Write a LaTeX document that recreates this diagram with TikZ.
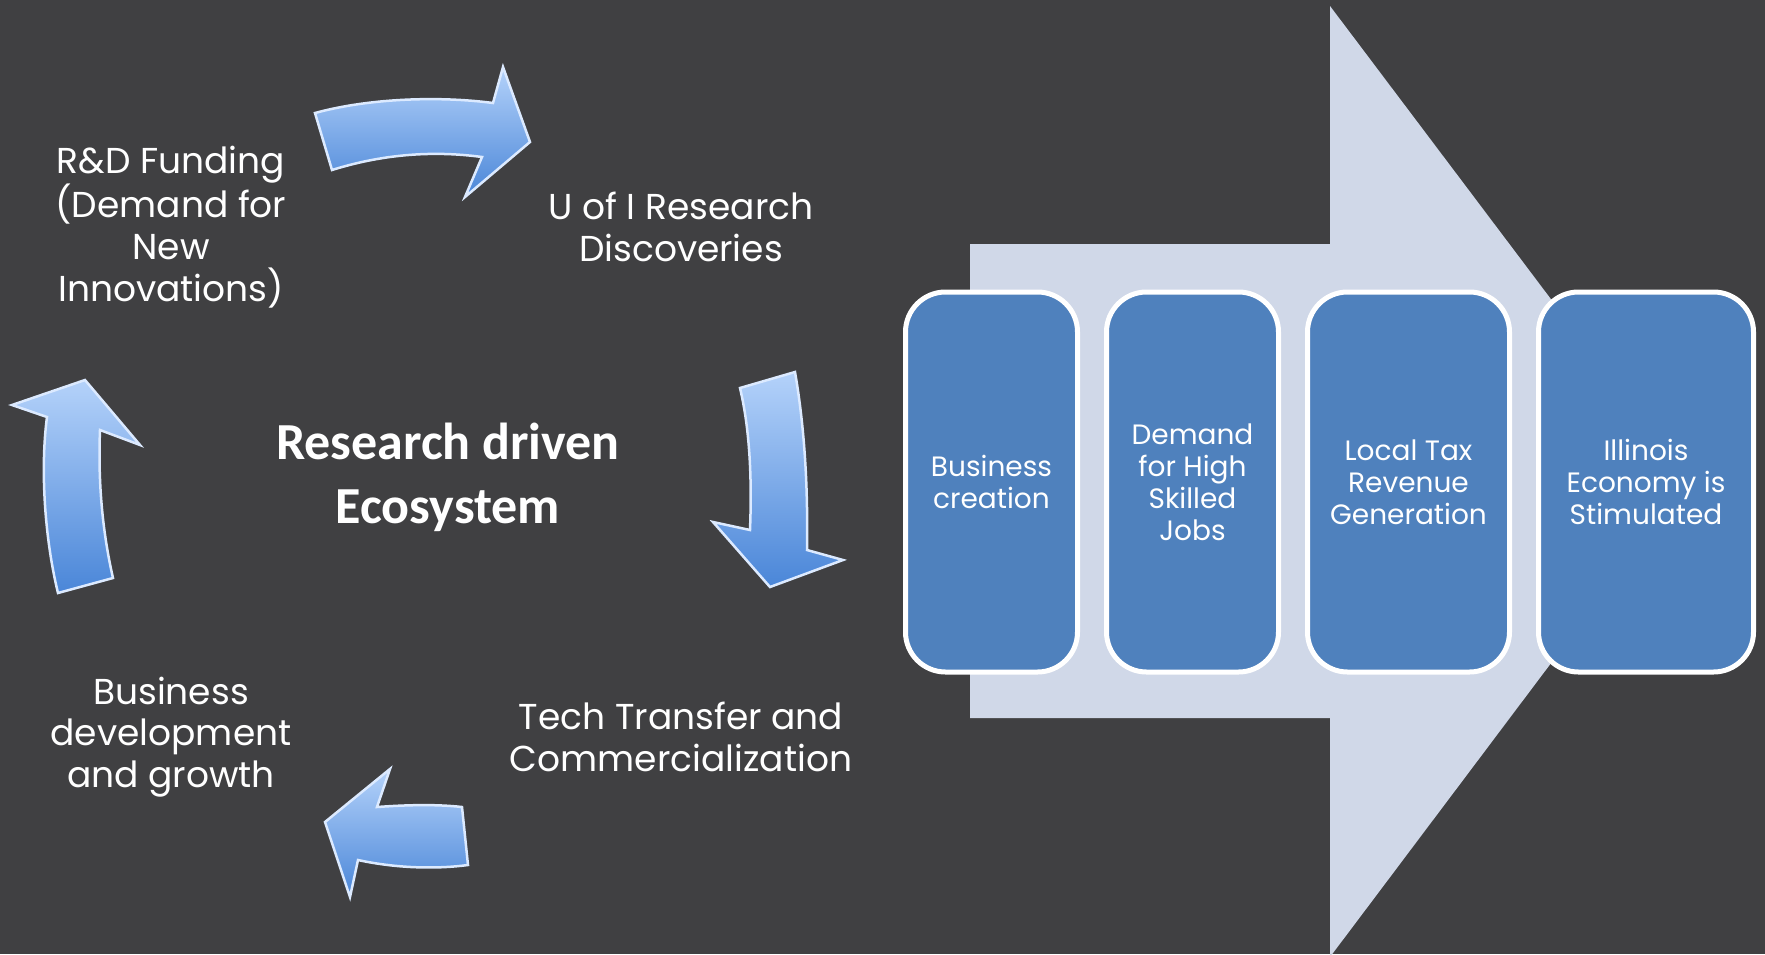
\documentclass[tikz,border=0pt]{standalone}
\usepackage{fontspec}
\setmainfont{Poppins}
\newfontfamily\titlefont{Carlito}
\definecolor{slidebg}{HTML}{404042}
\definecolor{bigarrow}{HTML}{D0D8E8}
\definecolor{boxblue}{HTML}{4F81BD}
\definecolor{arrowlight}{HTML}{B4D2FA}
\definecolor{arrowdark}{HTML}{4A86D8}
\definecolor{arrowedge}{HTML}{DCEAFF}
\tikzset{
  cyclearrow/.style={top color=arrowlight, bottom color=arrowdark, draw=arrowedge, line width=2.5pt, line join=miter},
  steplabel/.style={text=white, align=center, font=\fontsize{36}{41.6}\selectfont},
  stagebox/.style={draw=white, line width=5pt, fill=boxblue, rounded corners=40pt, minimum height=380pt, text=white, align=center, font=\fontsize{28}{32}\selectfont}
}
\begin{document}
\begin{tikzpicture}[x=1pt, y=-1pt]
\useasboundingbox (0,0) rectangle (1765,954);
\fill [slidebg] (0,0) rectangle (1765,954);
\fill [bigarrow] (970,244) -- (1330,244) -- (1330,6) -- (1688,481) -- (1330,957) -- (1330,718) -- (970,718) -- cycle;
\draw [cyclearrow] (315,113) .. controls (370,98) and (440,96) .. (493,103) -- (503,67) -- (530,142) -- (465,197) -- (482,157) .. controls (430,150) and (380,155) .. (332,170) -- cycle;
\draw [cyclearrow] (740,388) -- (795,372) .. controls (805,430) and (808,490) .. (807,550) -- (843,560) -- (770,587) -- (713,522) -- (750,530) .. controls (752,480) and (750,430) .. (740,388) -- cycle;
\draw [cyclearrow] (462,807) -- (468,865) .. controls (430,870) and (390,867) .. (358,860) -- (350,897) -- (325,822) -- (390,769) -- (377,807) .. controls (405,805) and (435,804) .. (462,807) -- cycle;
\draw [cyclearrow] (58,593) -- (113,578) .. controls (102,530) and (98,480) .. (100,430) -- (140,445) -- (85,380) -- (12,405) -- (47,417) .. controls (40,470) and (45,540) .. (58,593) -- cycle;
\node [steplabel] (funding) at (171,227) {R\&D Funding\\(Demand for\\New\\Innovations)};
\node [steplabel] (research) at (681,227) {U of I Research\\Discoveries};
\node [steplabel] (transfer) at (681,737) {Tech Transfer and\\Commercialization};
\node [steplabel] (growth) at (171,737) {Business\\development\\and growth};
\node [text=white, align=center, font=\titlefont\bfseries\fontsize{52}{64}\selectfont] (ecosystem) at (448,477) {Research driven\\Ecosystem};
\node [stagebox, minimum width=172pt] (creation) at (991.5,482) {Business\\creation};
\node [stagebox, minimum width=172pt] (jobs) at (1192.5,482) {Demand\\for High\\Skilled\\Jobs};
\node [stagebox, minimum width=202pt] (tax) at (1408.5,482) {Local Tax\\Revenue\\Generation};
\node [stagebox, minimum width=215pt] (economy) at (1646,482) {Illinois\\Economy is\\Stimulated};
\end{tikzpicture}
\end{document}
